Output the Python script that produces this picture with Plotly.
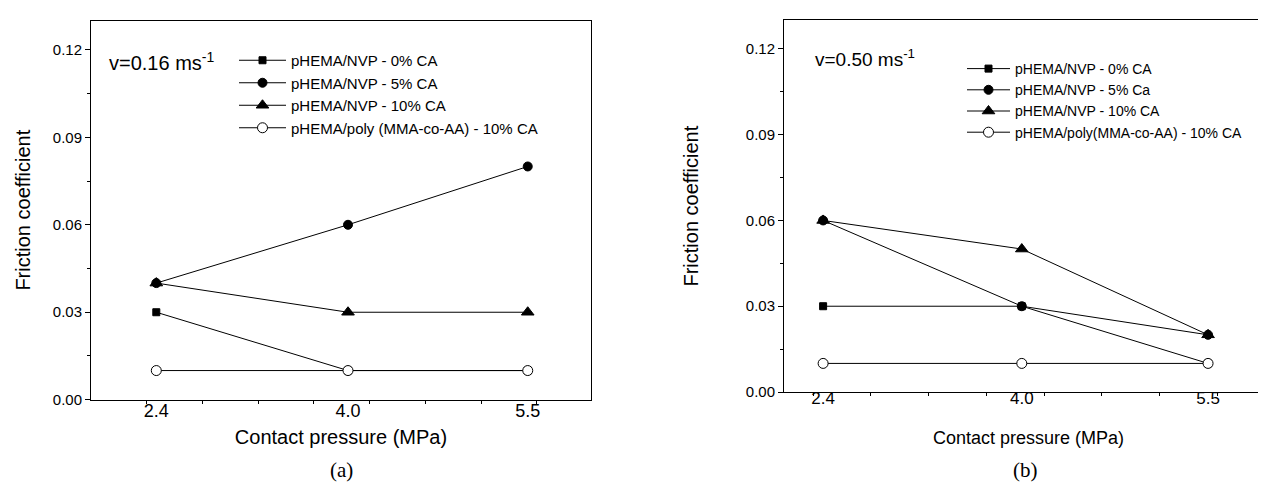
import plotly.graph_objects as go

# ---------------- data ----------------
pressure = [2.4, 4.0, 5.5]                      # contact pressure (MPa)
pressure_labels = ["2.4", "4.0", "5.5"]
y_tick_values = [0.0, 0.03, 0.06, 0.09, 0.12]
y_tick_labels = ["0.00", "0.03", "0.06", "0.09", "0.12"]

names_a = ["pHEMA/NVP - 0% CA", "pHEMA/NVP - 5% CA", "pHEMA/NVP - 10% CA",
           "pHEMA/poly (MMA-co-AA) - 10% CA"]
names_b = ["pHEMA/NVP - 0% CA", "pHEMA/NVP - 5% Ca", "pHEMA/NVP - 10% CA",
           "pHEMA/poly(MMA-co-AA) - 10% CA"]

# (a) v = 0.16 m/s
a_nvp0 = [0.03, 0.01, 0.01]
a_nvp5 = [0.04, 0.06, 0.08]
a_nvp10 = [0.04, 0.03, 0.03]
a_poly10 = [0.01, 0.01, 0.01]

# (b) v = 0.50 m/s
b_nvp0 = [0.03, 0.03, 0.01]
b_nvp5 = [0.06, 0.03, 0.02]
b_nvp10 = [0.06, 0.05, 0.02]
b_poly10 = [0.01, 0.01, 0.01]

speed_a = "v=0.16 ms<sup>-1</sup>"
speed_b = "v=0.50 ms<sup>-1</sup>"

# ---------------- styling ----------------
W, H = 1266, 482
SANS = "Arial, Liberation Sans, sans-serif"
SERIF = "Times New Roman, Liberation Serif, serif"
marker_styles = [
    dict(symbol="square", size=7, color="black", line=dict(color="black", width=1)),
    dict(symbol="circle", size=9, color="black", line=dict(color="black", width=1)),
    dict(symbol="triangle-up", size=11, color="black", line=dict(color="black", width=1)),
    dict(symbol="circle", size=10, color="white", line=dict(color="black", width=1)),
]
minor_x_ticks = [2.32 + 0.465 * k for k in range(8)]


def px_x(p):
    return p / W


def px_y(p):
    return 1 - p / H


fig = go.Figure()

for series, name, mk in zip([a_nvp0, a_nvp5, a_nvp10, a_poly10], names_a, marker_styles):
    fig.add_trace(go.Scatter(x=pressure, y=series, name=name, mode="lines+markers",
                             line=dict(color="black", width=1), marker=mk,
                             xaxis="x", yaxis="y", legend="legend"))

for series, name, mk in zip([b_nvp0, b_nvp5, b_nvp10, b_poly10], names_b, marker_styles):
    fig.add_trace(go.Scatter(x=pressure, y=series, name=name, mode="lines+markers",
                             line=dict(color="black", width=1), marker=mk,
                             xaxis="x2", yaxis="y2", legend="legend2"))


def xaxis_style(domain, rng, anchor, tick_size, label_standoff, title_size, title_standoff):
    return dict(domain=domain, range=rng, anchor=anchor,
                showline=True, linecolor="black", linewidth=1, mirror=True,
                showgrid=False, zeroline=False,
                tickmode="array", tickvals=pressure, ticktext=pressure_labels,
                ticks="", ticklabelstandoff=label_standoff,
                tickfont=dict(family=SANS, size=tick_size, color="black"),
                minor=dict(tickmode="array", tickvals=minor_x_ticks, ticks="outside",
                           ticklen=3, tickcolor="black", showgrid=False),
                title=dict(text="Contact pressure (MPa)",
                           font=dict(family=SANS, size=title_size, color="black"),
                           standoff=title_standoff),
                automargin=False)


def yaxis_style(domain, anchor, title_standoff):
    return dict(domain=domain, range=[0, 0.13], anchor=anchor,
                showline=True, linecolor="black", linewidth=1, mirror=True,
                showgrid=False, zeroline=False,
                tickmode="array", tickvals=y_tick_values, ticktext=y_tick_labels,
                ticks="outside", ticklen=5, tickcolor="black",
                tickfont=dict(family=SANS, size=15, color="black"),
                minor=dict(tickmode="linear", tick0=0, dtick=0.015, ticks="outside",
                           ticklen=3, tickcolor="black", showgrid=False),
                title=dict(text="Friction coefficient",
                           font=dict(family=SANS, size=20, color="black"),
                           standoff=title_standoff),
                automargin=False)


fig.update_layout(
    width=W, height=H,
    margin=dict(l=0, r=0, t=0, b=0),
    paper_bgcolor="white", plot_bgcolor="white",
    template="none",
    xaxis=xaxis_style([px_x(83), px_x(583)], [1.855, 6.028], "y", 18, -5, 20, 9),
    yaxis=yaxis_style([px_y(391.7), px_y(12.7)], "x", 16),
    xaxis2=xaxis_style([px_x(776), px_x(1265)], [2.085, 6.023], "y2", 17, -9, 18, 23),
    yaxis2=yaxis_style([px_y(384), px_y(12.3)], "x2", 41),
    legend=dict(x=px_x(226), y=px_y(36), xanchor="left", yanchor="top",
                bgcolor="rgba(0,0,0,0)", borderwidth=0, itemwidth=47,
                font=dict(family=SANS, size=15, color="black"), tracegroupgap=0),
    legend2=dict(x=px_x(954), y=px_y(45), xanchor="left", yanchor="top",
                 bgcolor="rgba(0,0,0,0)", borderwidth=0, itemwidth=43,
                 font=dict(family=SANS, size=14, color="black"), tracegroupgap=0),
    showlegend=True,
    annotations=[
        dict(text=speed_a, x=px_x(99), y=px_y(53), xref="paper", yref="paper",
             xanchor="left", yanchor="middle", showarrow=False,
             font=dict(family=SANS, size=20, color="black")),
        dict(text=speed_b, x=px_x(805), y=px_y(50), xref="paper", yref="paper",
             xanchor="left", yanchor="middle", showarrow=False,
             font=dict(family=SANS, size=19, color="black")),
        dict(text="(a)", x=px_x(333), y=px_y(462), xref="paper", yref="paper",
             xanchor="center", yanchor="middle", showarrow=False,
             font=dict(family=SERIF, size=21, color="black")),
        dict(text="(b)", x=px_x(1017), y=px_y(462), xref="paper", yref="paper",
             xanchor="center", yanchor="middle", showarrow=False,
             font=dict(family=SERIF, size=21, color="black")),
    ],
)

fig.write_html("out.html")
